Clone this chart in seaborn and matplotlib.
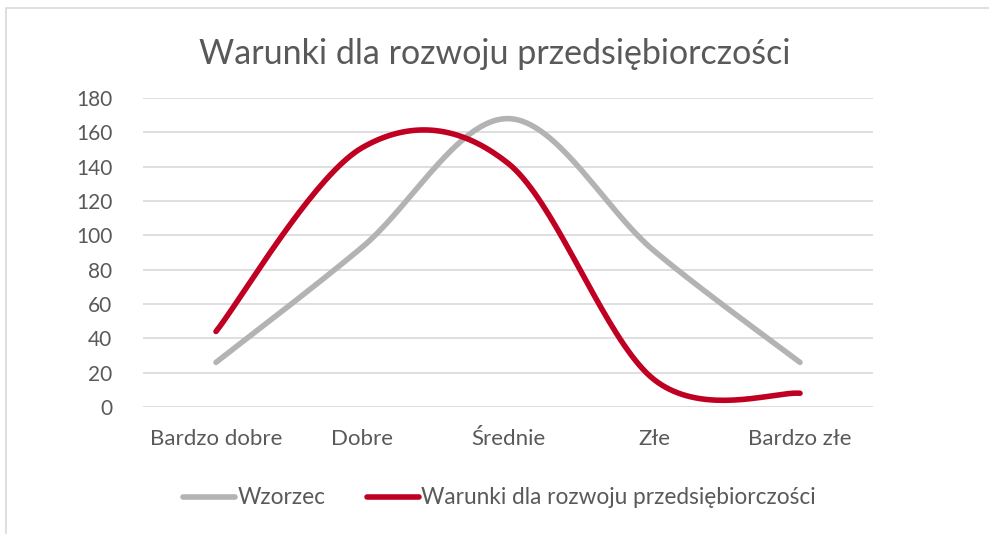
import numpy as np
import pandas as pd
import matplotlib
matplotlib.use("Agg")
import matplotlib.pyplot as plt
import seaborn as sns
from matplotlib.lines import Line2D
from matplotlib.patches import Rectangle

# data
categories = ["Bardzo dobre", "Dobre", "Średnie", "Złe", "Bardzo złe"]
wzorzec = [26, 93, 168, 91, 26]
warunki = [44, 151, 142, 16, 8]
series_names = ["Wzorzec", "Warunki dla rozwoju przedsiębiorczości"]
colors = ["#b3b3b3", "#c00023"]
text_col = "#595959"


def smooth(xs, ys, n=40):
    # Excel-like smoothed line (Catmull-Rom bezier through the points)
    xs = np.asarray(xs, float)
    ys = np.asarray(ys, float)
    px = np.concatenate([[xs[0]], xs, [xs[-1]]])
    py = np.concatenate([[ys[0]], ys, [ys[-1]]])
    outx, outy = [], []
    t = np.linspace(0, 1, n)
    for i in range(1, len(px) - 2):
        p0, p1, p2, p3 = [np.array([px[j], py[j]]) for j in (i - 1, i, i + 1, i + 2)]
        c1 = p1 + (p2 - p0) / 6
        c2 = p2 - (p3 - p1) / 6
        b = ((1 - t) ** 3)[:, None] * p1 + (3 * (1 - t) ** 2 * t)[:, None] * c1 \
            + (3 * (1 - t) * t ** 2)[:, None] * c2 + (t ** 3)[:, None] * p2
        outx.extend(b[:, 0])
        outy.extend(b[:, 1])
    return outx, outy


frames = []
for name, vals in zip(series_names, [wzorzec, warunki]):
    sx, sy = smooth(range(len(categories)), vals)
    frames.append(pd.DataFrame({"x": sx, "y": sy, "series": name}))
df = pd.concat(frames, ignore_index=True)

sns.set_style("white")
plt.rcParams["font.family"] = ["Lato", "DejaVu Sans"]

fig = plt.figure(figsize=(9.89, 5.34), dpi=100)
ax = fig.add_axes([143 / 989, 1 - 407 / 534, 730 / 989, 309 / 534])

sns.lineplot(data=df, x="x", y="y", hue="series", palette=colors,
             sort=False, estimator=None, linewidth=4, ax=ax, legend=False,
             solid_capstyle="round")

ax.set_xlim(-0.5, len(categories) - 0.5)
ax.set_ylim(0, 180)
ax.set_yticks(range(0, 181, 20))
ax.set_xticks(range(len(categories)))
ax.set_xticklabels(categories)
ax.yaxis.grid(True, color="#d9d9d9", linewidth=1.2)
ax.set_axisbelow(True)
for s in ax.spines.values():
    s.set_visible(False)
ax.tick_params(axis="x", length=0, labelsize=16, colors=text_col, pad=16)
ax.tick_params(axis="y", length=0, labelsize=15, colors=text_col, pad=22)
ax.set_xlabel("")
ax.set_ylabel("")

fig.text(0.5, 1 - 54 / 534, "Warunki dla rozwoju przedsiębiorczości",
         ha="center", va="center", fontsize=24.5, color=text_col)

handles = [Line2D([0], [0], color=c, linewidth=4, solid_capstyle="round") for c in colors]
fig.legend(handles, series_names, loc="center", bbox_to_anchor=(0.505, 1 - 498 / 534),
           ncol=2, frameon=False, fontsize=16.3, labelcolor=text_col,
           handlelength=2.3, handletextpad=0.1, columnspacing=1.8)

# chart frame
fig.patches.append(Rectangle((6 / 989, -0.1), 1.1, 1 - 8 / 534 + 0.1,
                             transform=fig.transFigure, fill=False,
                             edgecolor="#d9d9d9", linewidth=1.2))

fig.savefig("out.png", dpi=100, facecolor="white")
